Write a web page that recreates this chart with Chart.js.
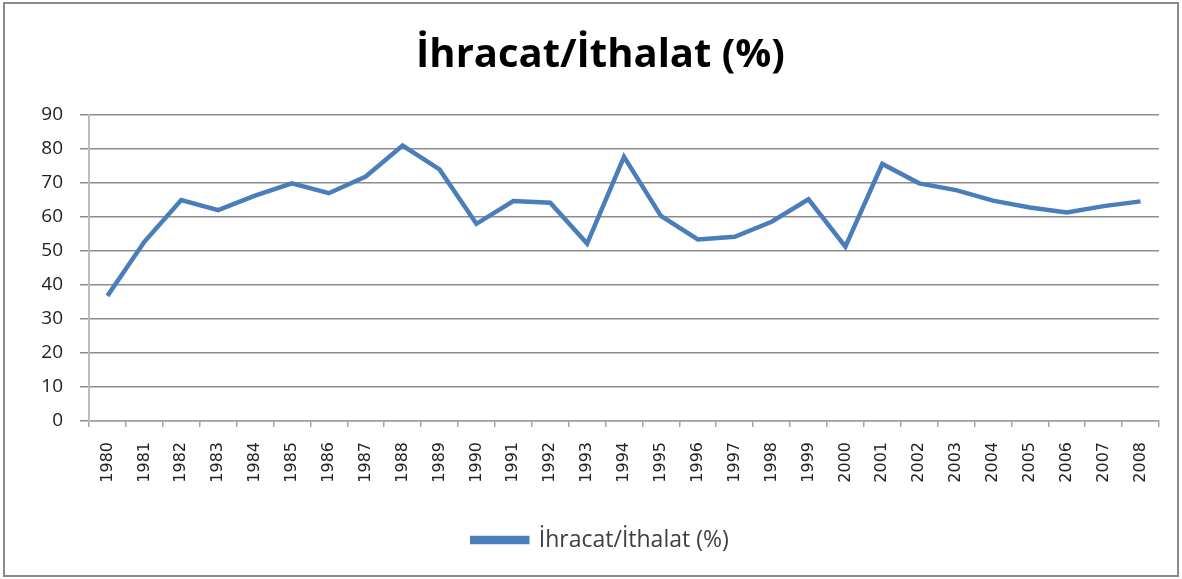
<!DOCTYPE html>
<html>
<head>
<meta charset="utf-8">
<script src="https://cdn.jsdelivr.net/npm/chart.js@4"></script>
<style>
    html, body { margin: 0; padding: 0; background: #fff; overflow: hidden; }
    #chart { position: absolute; left: 0; top: 0; display: block; }
    #frame {
        position: absolute;
        left: 3px; top: 2px;
        width: 1176px; height: 575px;
        border: 2px solid #8a8a8a;
        box-sizing: border-box;
        pointer-events: none;
    }
</style>
</head>
<body>
<canvas id="chart" width="1182" height="579"></canvas>
<div id="frame"></div>
<script>
// Export/import coverage ratio
const years = ['1980', '1981', '1982', '1983', '1984', '1985', '1986', '1987', '1988', '1989',
    '1990', '1991', '1992', '1993', '1994', '1995', '1996', '1997', '1998', '1999',
    '2000', '2001', '2002', '2003', '2004', '2005', '2006', '2007', '2008'];
const ratio = [36.8, 52.7, 65.0, 62.0, 66.3, 69.9, 67.0, 71.9, 81.0, 74.0,
    58.0, 64.7, 64.2, 52.2, 77.7, 60.3, 53.4, 54.2, 58.6, 65.2,
    51.3, 75.6, 69.9, 67.9, 64.8, 62.8, 61.3, 63.2, 64.6];
const yTicks = [0, 10, 20, 30, 40, 50, 60, 70, 80, 90];
const seriesName = 'İhracat/İthalat (%)';

const lineBlue = '#4a7ebb';
const gridGray = '#8c8c8c';

new Chart(document.getElementById('chart').getContext('2d'), {
    type: 'line',
    data: {
        labels: years,
        datasets: [{
            label: seriesName,
            data: ratio,
            borderColor: lineBlue,
            backgroundColor: lineBlue,
            borderWidth: 4.5,
            pointRadius: 0,
            tension: 0,
            fill: false
        }]
    },
    options: {
        responsive: false,
        animation: false,
        // left padding + y axis width keep the plot at x=89 while centring title/legend near 600
        layout: { padding: { left: 42, right: 23, top: 0, bottom: 17.5 } },
        plugins: {
            title: {
                display: true,
                text: seriesName,
                color: '#000',
                font: { family: "'Open Sans', sans-serif", size: 40, weight: 'bold', lineHeight: 1.2 },
                padding: { top: 32, bottom: 35 }
            },
            legend: {
                position: 'bottom',
                labels: {
                    color: '#404040',
                    font: { family: "'Open Sans', sans-serif", size: 23 },
                    boxWidth: 55,
                    boxHeight: 4,
                    padding: 10
                }
            },
            tooltip: { enabled: false }
        },
        scales: {
            x: {
                offset: true,
                afterFit: function(axis) { axis.height = 97.5; },
                grid: {
                    display: true,
                    offset: true,
                    drawOnChartArea: false,
                    drawTicks: true,
                    tickLength: 6,
                    color: '#a6a6a6',
                    lineWidth: 1.5
                },
                border: { color: '#a0a0a0', width: 1.5 },
                ticks: {
                    color: '#222',
                    font: { family: "'DejaVu Sans', sans-serif", size: 16 },
                    maxRotation: 90,
                    minRotation: 90,
                    autoSkip: false,
                    padding: 15
                }
            },
            y: {
                min: 0,
                max: 90,
                afterFit: function(axis) { axis.width = 47; },
                afterBuildTicks: function(axis) {
                    axis.ticks = yTicks.map(v => ({ value: v }));
                },
                grid: {
                    color: gridGray,
                    lineWidth: 1.5,
                    drawTicks: true,
                    tickLength: 9
                },
                border: { color: '#bcbcbc', width: 2 },
                ticks: {
                    color: '#222',
                    font: { family: "'Open Sans', sans-serif", size: 19 },
                    padding: 17
                }
            }
        }
    }
});
</script>
</body>
</html>
